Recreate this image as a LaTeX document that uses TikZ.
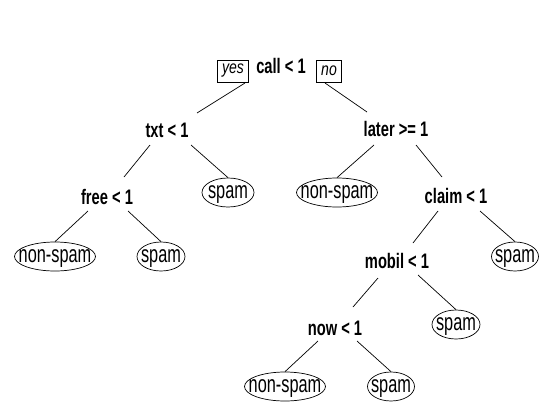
\documentclass[tikz,border=0pt]{standalone}
\usepackage{fontspec}
\setmainfont{Liberation Sans}[FakeStretch=0.70]
\newfontfamily\leaffont{Liberation Sans}[FakeStretch=0.68]
\newfontfamily\labfont{Liberation Sans}[FakeStretch=0.78]
\usetikzlibrary{shapes.geometric,calc}
\newcommand{\lt}[1]{\raisebox{-6pt}[0pt][0pt]{\makebox[0pt]{#1}}}
\begin{document}
\begin{tikzpicture}[x=1pt,y=-1pt,
  split/.style={font=\fontsize{21}{23}\selectfont\bfseries, inner sep=0pt},
  leaf/.style={draw, ellipse, inner sep=0pt, minimum height=29pt, font=\leaffont\fontsize{24}{26}\selectfont, line width=0.7pt},
  lab/.style={draw, rectangle, inner sep=0pt, minimum height=22pt, font=\labfont\fontsize{18}{20}\selectfont\itshape, line width=0.7pt},
  conn/.style={line width=0.7pt}]
\fill[white] (0,0) rectangle (544,407);
\useasboundingbox (0,0) rectangle (544,407);
% split nodes
\node[split] (call) at (281,66) {call < 1};
\node[lab, minimum width=31pt] (yes) at (233,71) {yes};
\node[lab, minimum width=25pt] (no) at (329,71) {no};
\node[split] (txt) at (167,130) {txt < 1};
\node[split] (later) at (396,129) {later >= 1};
\node[split] (free) at (107,197) {free < 1};
\node[split] (claim) at (456,196) {claim < 1};
\node[split] (mobil) at (397,261) {mobil < 1};
\node[split] (now) at (335,328) {now < 1};
% leaves
\node[leaf, minimum width=52pt] (s1) at (228,192.5) {\lt{spam}};
\node[leaf, minimum width=81pt] (n1) at (337,192.5) {\lt{non-spam}};
\node[leaf, minimum width=81pt] (n2) at (55,256.5) {\lt{non-spam}};
\node[leaf, minimum width=48pt] (s2) at (161,256.5) {\lt{spam}};
\node[leaf, minimum width=47pt] (s3) at (515,256.5) {\lt{spam}};
\node[leaf, minimum width=48pt] (s4) at (456,324.5) {\lt{spam}};
\node[leaf, minimum width=81pt] (n3) at (285,386.5) {\lt{non-spam}};
\node[leaf, minimum width=47pt] (s5) at (391,386.5) {\lt{spam}};
% connectors
\draw[conn] ($(yes)+(12,12)$) -- ($(txt)+(30,-17)$);
\draw[conn] ($(no)+(-4,12)$) -- ($(later)+(-29,-17)$);
\draw[conn] ($(txt)+(-17,15)$) -- ($(free)+(17,-20)$);
\draw[conn] ($(txt)+(24,15)$) -- (s1.north);
\draw[conn] ($(later)+(-22,16)$) -- (n1.north);
\draw[conn] ($(later)+(20,16)$) -- ($(claim)+(-14,-19)$);
\draw[conn] ($(free)+(-19,14)$) -- (n2.north);
\draw[conn] ($(free)+(21,14)$) -- (s2.north);
\draw[conn] ($(claim)+(-18,15)$) -- ($(mobil)+(16,-18)$);
\draw[conn] ($(claim)+(24,15)$) -- (s3.north);
\draw[conn] ($(mobil)+(-19,17)$) -- ($(now)+(18,-21)$);
\draw[conn] ($(mobil)+(21,14)$) -- (s4.north);
\draw[conn] ($(now)+(-17,13)$) -- (n3.north);
\draw[conn] ($(now)+(22,13)$) -- (s5.north);
\end{tikzpicture}
\end{document}
